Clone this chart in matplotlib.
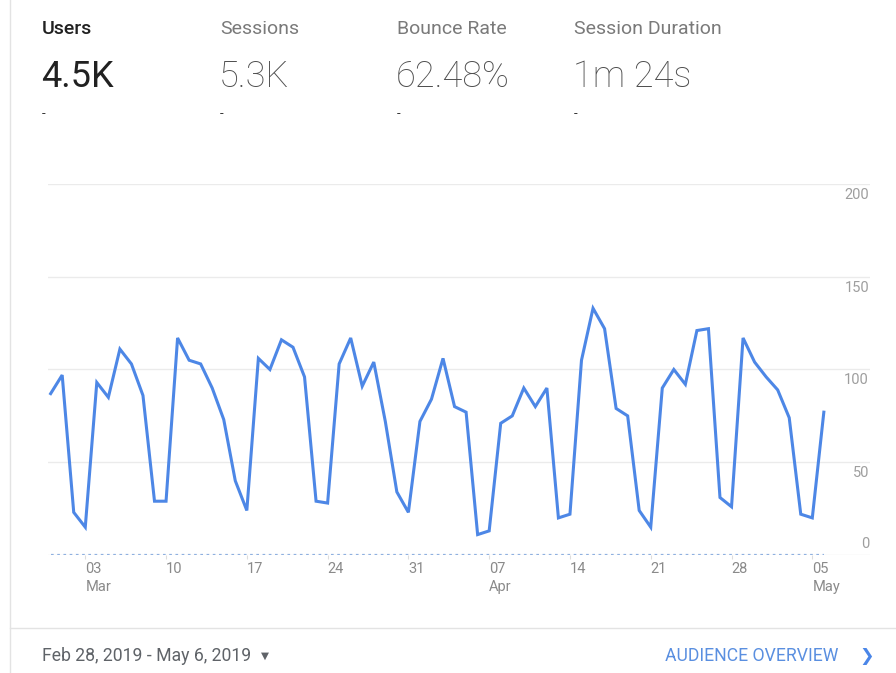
import matplotlib
matplotlib.use("Agg")
import matplotlib.pyplot as plt
from matplotlib.lines import Line2D
import pandas as pd

plt.rcParams['font.family'] = ['Roboto', 'DejaVu Sans']

# daily users, Feb 28 - May 6 2019
dates = pd.date_range("2019-02-28", "2019-05-06", freq="D")
users = [87, 97, 23, 15, 93, 85, 111, 103, 86, 29,
         29, 117, 105, 103, 90, 73, 40, 24, 106, 100,
         116, 112, 96, 29, 28, 103, 117, 91, 104, 72,
         34, 23, 72, 84, 106, 80, 77, 11, 13, 71,
         75, 90, 80, 90, 20, 22, 105, 133, 122, 79,
         75, 24, 15, 90, 100, 92, 121, 122, 31, 26,
         117, 104, 96, 89, 74, 22, 20, 77]

tick_dates = pd.date_range("2019-03-03", "2019-05-05", freq="7D")
y_ticks = [0, 50, 100, 150, 200]

metric_names = ["Users", "Sessions", "Bounce Rate", "Session Duration"]
metric_values = ["4.5K", "5.3K", "62.48%", "1m 24s"]
metric_x = [42, 220, 397, 574]

W, H = 896, 673
fig = plt.figure(figsize=(W / 100, H / 100), dpi=100)

def px(x, y):
    return x / W, 1 - y / H

# card borders
fig.add_artist(Line2D([10 / W, 10 / W], [0, 1], color="#e3e3e3", lw=1))
fig.add_artist(Line2D([10 / W, 1], [1 - 628 / H, 1 - 628 / H], color="#e3e3e3", lw=1))

# header metrics
for i, (name, val, x) in enumerate(zip(metric_names, metric_values, metric_x)):
    first = i == 0
    fig.text(*px(x, 29), name, fontsize=14, va="center", ha="left",
             color="#212121" if first else "#7a7a7a",
             fontweight="medium" if first else "normal")
    fig.text(*px(x - 1, 77), val, fontsize=26, va="center", ha="left",
             color="#212121" if first else "#4f4f4f",
             fontweight="normal" if first else "light")
    fig.text(*px(x, 114), "-", fontsize=9.5, va="center", ha="left", color="#333333")

# chart
ax = fig.add_axes([48 / W, 118 / H, 822 / W, 371 / H])
ax.plot(dates, users, color="#4d87e6", lw=2.2, solid_joinstyle="miter", zorder=3)
ax.hlines(0, dates[0], dates[-1], colors="#8fb0e0", linestyles=(0, (1.2, 1.6)), lw=1.6, zorder=2)

ax.set_ylim(0, 200)
ax.set_xlim(dates[0] - pd.Timedelta(hours=5.5), dates[0] + pd.Timedelta(days=71))
ax.set_yticks(y_ticks)
ax.yaxis.grid(True, color="#ebebeb", lw=1)
ax.set_axisbelow(True)
ax.tick_params(axis="y", length=0, labelleft=False)
for spine in ax.spines.values():
    spine.set_visible(False)

for v in y_ticks:
    dy = 11 if v == 0 else -11
    ax.annotate(str(v), xy=(1, v), xycoords=("axes fraction", "data"),
                xytext=(-1, dy), textcoords="offset pixels",
                ha="right", va="center", fontsize=10.5, color="#9e9e9e")

labels = []
prev_month = None
for d in tick_dates:
    if d.month != prev_month:
        labels.append(d.strftime("%d") + "\n" + d.strftime("%b"))
    else:
        labels.append(d.strftime("%d"))
    prev_month = d.month
ax.set_xticks(tick_dates)
ax.set_xticklabels(labels)
ax.tick_params(axis="x", length=3, color="#dddddd", pad=2, labelsize=10.5,
               labelcolor="#8a8a8a")
for lbl in ax.get_xticklabels():
    lbl.set_ha("left")
    lbl.set_linespacing(1.35)

# footer
fig.text(*px(42, 656), "Feb 28, 2019 - May 6, 2019", fontsize=12.7, va="center",
         ha="left", color="#5f6368")
fig.text(*px(261, 656), "\u25bc", fontsize=7.5, va="center", ha="left", color="#5f6368",
         family=["DejaVu Sans"])
fig.text(*px(838, 656), "AUDIENCE OVERVIEW", fontsize=12.7, va="center", ha="right",
         color="#5a8fe0")
fig.text(*px(867, 656), "\u276f", fontsize=12.5, va="center", ha="center", color="#4a86e8",
         family=["DejaVu Sans"])

fig.savefig("out.png", dpi=100, facecolor="white")
